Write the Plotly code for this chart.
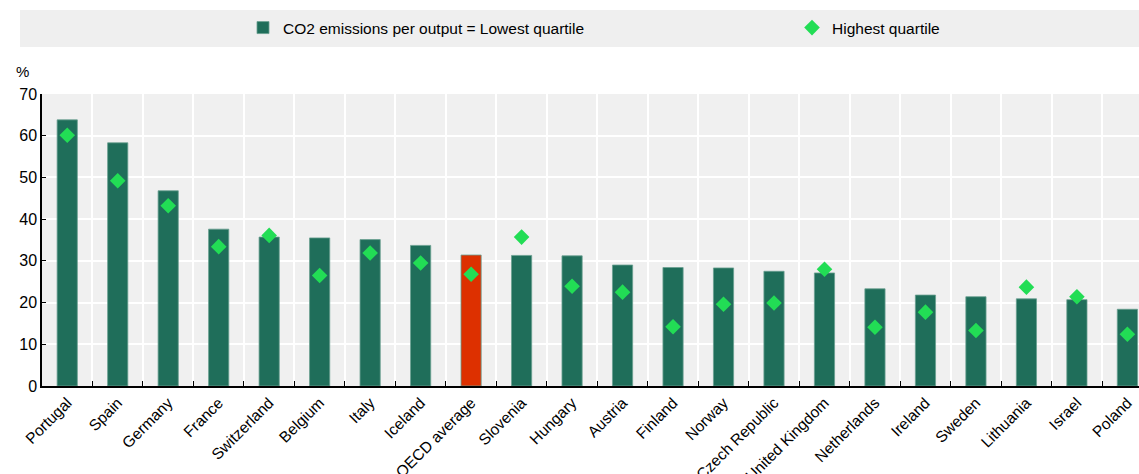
import plotly.graph_objects as go

paises = ["Portugal", "Spain", "Germany", "France", "Switzerland", "Belgium", "Italy",
          "Iceland", "OECD average", "Slovenia", "Hungary", "Austria", "Finland", "Norway",
          "Czech Republic", "United Kingdom", "Netherlands", "Ireland", "Sweden",
          "Lithuania", "Israel", "Poland"]
quartil_inferior = [63.8, 58.3, 46.8, 37.6, 35.7, 35.5, 35.1, 33.7, 31.4, 31.3, 31.2,
                    29.0, 28.4, 28.3, 27.5, 27.1, 23.3, 21.8, 21.4, 20.9, 20.7, 18.4]
quartil_superior = [60.1, 49.2, 43.2, 33.4, 36.1, 26.5, 31.9, 29.5, 26.8, 35.7, 23.9,
                    22.5, 14.2, 19.6, 19.9, 28.0, 14.1, 17.7, 13.3, 23.7, 21.4, 12.4]

VERDE = "#1F6E5A"
VERMELHO = "#DD3000"
cores_barras = [VERMELHO if p == "OECD average" else VERDE for p in paises]

FONTE = "Liberation Sans, Arial"
W, H = 1139, 474
ESQ, TOPO, BASE = 42, 94, 88
ALT_PLOT = H - TOPO - BASE


def px_x(px):
    # pixel horizontal da referência -> coordenada paper
    return (px - ESQ) / (W - ESQ)


def px_y(py):
    return (H - BASE - py) / ALT_PLOT


fig = go.Figure()
fig.add_trace(go.Bar(
    x=paises, y=quartil_inferior, name="CO2 emissions per output = Lowest quartile",
    marker=dict(color=cores_barras, line=dict(color="#6A9F90", width=0.8)),
    width=0.4, legend="legend",
))
fig.add_trace(go.Scatter(
    x=paises, y=quartil_superior, name="Highest quartile", mode="markers",
    marker=dict(symbol="diamond", size=12, color="#22DD55"), legend="legend2",
))

# faixa cinza da legenda
fig.add_shape(type="rect", xref="paper", yref="paper",
              x0=px_x(20), x1=1.0, y0=px_y(47), y1=px_y(10),
              fillcolor="#EFEFEF", line=dict(width=0), layer="below")

fig.add_annotation(text="%", xref="paper", yref="paper",
                   x=px_x(22), y=px_y(71), showarrow=False,
                   xanchor="center", yanchor="middle",
                   font=dict(size=15, color="#000000", family=FONTE))

legenda_base = dict(orientation="h", xanchor="left", yanchor="middle",
                    y=px_y(28), bgcolor="rgba(0,0,0,0)",
                    font=dict(size=15.5, family=FONTE, color="#000000"))

fig.update_layout(
    width=W, height=H,
    margin=dict(l=ESQ, r=0, t=TOPO, b=BASE, autoexpand=False),
    paper_bgcolor="white", plot_bgcolor="#F0F0F0",
    font=dict(family=FONTE, size=16, color="#000000"),
    showlegend=True,
    legend=dict(legenda_base, x=px_x(243)),
    legend2=dict(legenda_base, x=px_x(792)),
    xaxis=dict(range=[-0.5, 21.23], tickson="boundaries", showgrid=True,
               gridcolor="white", gridwidth=2, ticks="inside", ticklen=5,
               tickcolor="black", showline=True, linecolor="black", linewidth=1.5,
               tickangle=-45, tickfont=dict(size=15.5), zeroline=False),
    yaxis=dict(range=[0, 70], dtick=10, showgrid=True, gridcolor="white", gridwidth=2,
               ticks="inside", ticklen=4, tickcolor="black", showline=True,
               linecolor="black", linewidth=1.5, zeroline=False,
               tickfont=dict(size=16)),
)

# sem a margem padrão do body, a figura ocupa a janela inteira
fig.write_html("out.html", config={"displayModeBar": False},
               post_script="document.body.style.margin='0';")
